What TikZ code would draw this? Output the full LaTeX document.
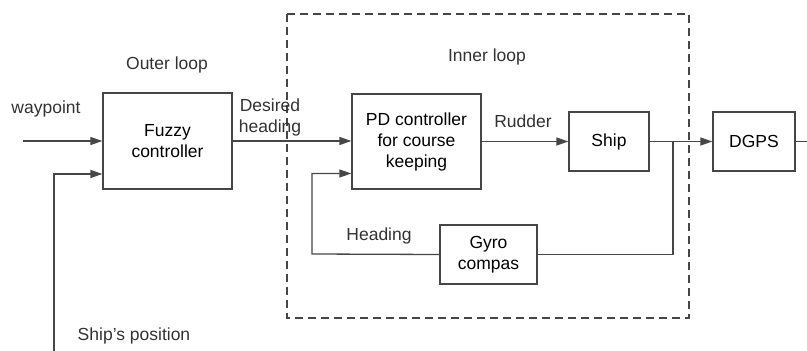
\documentclass[tikz,border=0pt]{standalone}
\usepackage{fontspec}
\setmainfont{Liberation Sans}
\usetikzlibrary{arrows.meta}
\definecolor{linegray}{RGB}{70,70,70}
\definecolor{textgray}{RGB}{50,50,50}
\tikzset{
  block/.style={draw=linegray,line width=1.3pt,align=center,inner sep=0pt},
  lbl/.style={text=textgray,align=center},
  wire/.style={draw=linegray,line width=1.3pt},
  arr/.style={wire,-{Triangle[length=12pt,width=8pt]}}
}
\begin{document}
\begin{tikzpicture}[x=1pt,y=-1pt,font=\fontsize{17.5}{21}\selectfont]
\useasboundingbox (0,0) rectangle (807,351);
% blocks:
\node[block,minimum width=129pt,minimum height=96pt] (fuzzy) at (167.5,141) {Fuzzy\\controller};
\node[block,minimum width=129pt,minimum height=95pt] (pd) at (416.5,141.5) {PD controller\\for course\\keeping};
\node[block,minimum width=80pt,minimum height=59pt] (ship) at (609,141.5) {Ship};
\node[block,minimum width=82pt,minimum height=59pt] (dgps) at (754,141.5) {DGPS};
\node[block,minimum width=97pt,minimum height=59pt] (gyro) at (488.5,254.5) {Gyro\\compas};
% inner loop frame:
\draw[linegray,line width=1.3pt,dash pattern=on 8pt off 5pt] (287,14) rectangle (689,318);
% free ends and corners:
\coordinate (wp) at (23,141);
\coordinate (pos) at (54,351);
\coordinate (branch) at (673,141.5);
\coordinate (fb) at (312,254);
\coordinate (out) at (807,141.5);
% connectors:
\draw[arr] (wp) -- (fuzzy.west);
\draw[arr] (pos) |- ([yshift=-33pt]fuzzy.west);
\draw[arr] (fuzzy.east) -- (fuzzy.east -| pd.west);
\draw[arr] (pd.east) -- (ship.west);
\draw[wire] (ship.east) -- (branch);
\draw[arr] (branch) -- (dgps.west);
\draw[wire] (dgps.east) -- (out);
\draw[wire] (branch) |- (gyro.east);
\draw[arr] (gyro.west) -- (fb) |- ([yshift=-32pt]pd.west);
% labels:
\node[lbl] (wptext) at (46,109) {waypoint};
\node[lbl] (outer) at (167,65) {Outer loop};
\node[lbl] (desired) at (270,117) {Desired\\heading};
\node[lbl] (inner) at (487,57) {Inner loop};
\node[lbl] (rudder) at (523,121) {Rudder};
\node[lbl] (heading) at (379,236) {Heading};
\node[lbl] (postext) at (134,336) {Ship's position};
\end{tikzpicture}
\end{document}
